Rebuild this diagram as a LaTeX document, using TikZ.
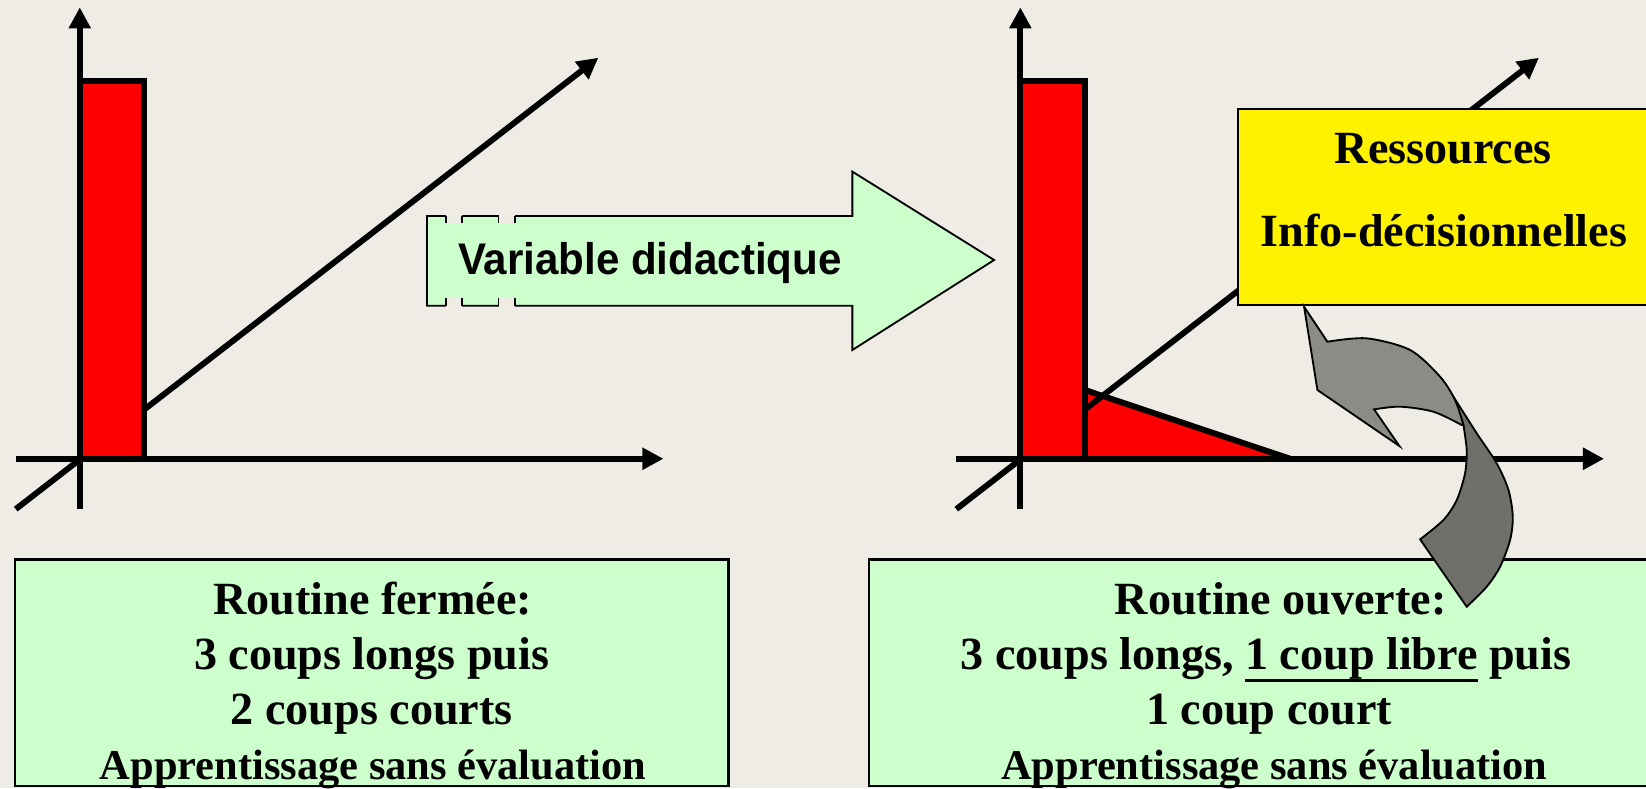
\documentclass[tikz,border=0pt]{standalone}
\usepackage{fontspec}
\setmainfont{Liberation Serif}
\newfontfamily\arialfont{Liberation Sans}
\usetikzlibrary{arrows.meta}
\definecolor{bg}{RGB}{239,236,229}
\definecolor{lgreen}{RGB}{204,255,204}
\definecolor{grayA}{RGB}{140,140,134}
\definecolor{grayB}{RGB}{112,112,106}
\newcommand{\ulx}[1]{\setbox0\hbox{#1}\rlap{\rule[-3.5pt]{\wd0}{0.85pt}}\box0\relax}
\begin{document}
\begin{tikzpicture}[x=0.01cm,y=-0.01cm,
  axis/.style={line width=1.6pt,-{Triangle[length=5.7pt,width=5.7pt]}},
  plain axis/.style={line width=1.6pt},
  barbox/.style={fill=red,draw=black,line width=1.6pt},
  thinline/.style={draw=black,line width=0.5pt},
  txt/.style={anchor=base,inner sep=0pt,font=\fontsize{12.5pt}{15pt}\selectfont\bfseries},
  txts/.style={anchor=base,inner sep=0pt,font=\fontsize{11.5pt}{14pt}\selectfont\bfseries},
  atxt/.style={anchor=base,inner sep=0pt,font=\arialfont\fontsize{12pt}{14pt}\selectfont\bfseries}]
\clip (0,0) rectangle (1568,751);
\fill[bg] (0,0) rectangle (1568,751);

% ---- left chart
\draw[axis] (15,485) -- (570,55);
\draw[barbox] (76,77.5) rectangle (137.5,437);
\draw[axis] (15,437) -- (632,437);
\draw[axis] (76,485) -- (76,7);

% ---- right chart
\begin{scope}[shift={(896,0)}]
\fill[red] (137.5,371.5) -- (137.5,437) -- (333,437) -- cycle;
\draw[plain axis] (137.5,371.5) -- (333,437);
\draw[axis] (15,485) -- (570,55);
\draw[barbox] (76,77.5) rectangle (137.5,437);
\draw[axis] (15,437) -- (632,437);
\draw[axis] (76,485) -- (76,7);
\end{scope}

% ---- yellow box
\draw[fill=yellow,line width=0.6pt] (1179,104) rectangle (1590,290.6);
\node[txt] (res) at (1375,155.6) {Ressources};
\node[txt] (info) at (1375.5,235) {Info-décisionnelles};

% ---- big green arrow
\draw[fill=lgreen,thinline] (406.7,205.8) -- (812,205.8) -- (812,163.5) -- (947,247.7)
  -- (812,333.4) -- (812,291.2) -- (406.7,291.2) -- cycle;
\fill[bg] (424.9,203) rectangle (440.2,212.1);
\fill[bg] (474.9,203) rectangle (490.5,212.1);
\fill[bg] (424.9,284.2) rectangle (440.2,294);
\fill[bg] (474.9,284.2) rectangle (490.5,294);
\foreach \gx in {424.9,440.2,474.9,490.5}{
  \draw[thinline] (\gx,205.8) -- (\gx,212.1);
  \draw[thinline] (\gx,284.2) -- (\gx,291.2);
}
\node[atxt] (vd) at (619,261.4) {\scalebox{0.95}[1]{Variable didactique}};

% ---- green boxes
\draw[fill=lgreen,line width=0.6pt] (14,533) rectangle (694,749);
\node[txt] (lt1) at (355,585) {Routine fermée:};
\node[txt] (lt2) at (354,637.5) {3 coups longs puis};
\node[txt] (lt3) at (354,690) {2 coups courts};
\node[txts] (lt4) at (355.5,743) {Apprentissage sans évaluation};

\draw[fill=lgreen,line width=0.6pt] (828,533) rectangle (1590,749);
\node[txt] (rt1) at (1220,585) {Routine ouverte:};
\node[txt] (rt2) at (1206,637.5) {3 coups longs, \ulx{1 coup libre} puis};
\node[txt] (rt3) at (1209,690) {1 coup court};
\node[txts] (rt4) at (1214,743) {Apprentissage sans évaluation};

% ---- curved gray arrow
\path[fill=grayB,thinline] (1384,377)
  -- plot[smooth] coordinates {(1384,377) (1406.8,412.8) (1425.8,441.4) (1437.0,466.8) (1441.1,492.2) (1438.5,514.5) (1429.0,539.9) (1416.3,558.9) (1397.2,578.0)}
  -- (1352.8,513.8)
  -- plot[smooth] coordinates {(1352.8,513.8) (1375.0,495.4) (1387.7,476.4) (1395.6,451.0) (1397.2,428.7) (1394.1,404.9)}
  -- cycle;
\path[fill=grayA,thinline] (1242.3,292.2) -- (1264.5,325.5)
  -- plot[smooth] coordinates {(1264.5,325.5) (1302.0,322.3) (1343.3,333.4) (1371.8,358.8) (1386.1,381.1) (1394.1,404.9)}
  -- plot[smooth] coordinates {(1392.5,404.9) (1365.5,392.2) (1333.7,387.4) (1309.0,390.0)}
  -- (1333.1,424.9) -- (1255.0,371.5) -- cycle;
\end{tikzpicture}
\end{document}
